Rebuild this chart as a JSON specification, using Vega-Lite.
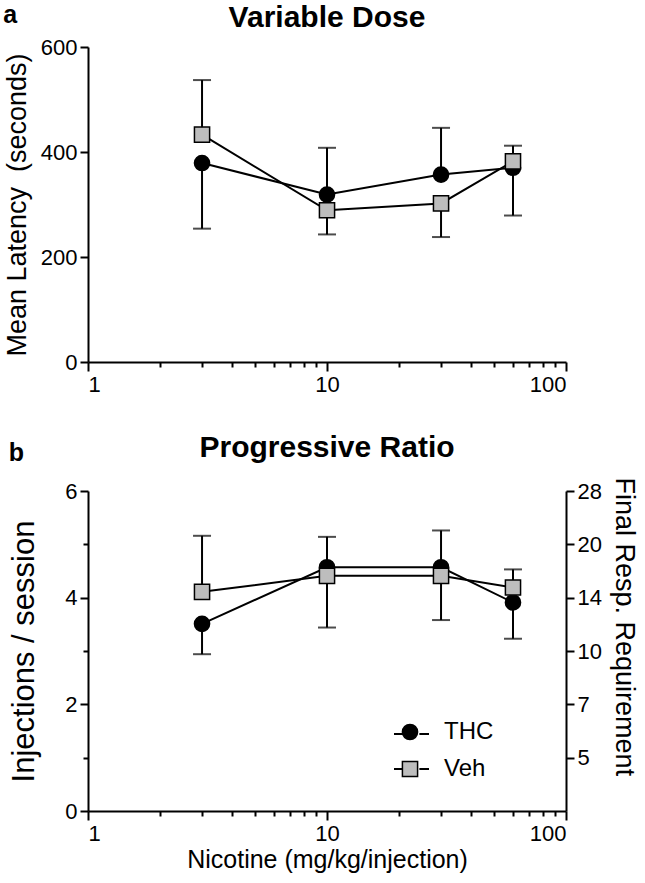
{
  "$schema": "https://vega.github.io/schema/vega-lite/v6.json",
  "padding": {"left": 3, "top": 3, "right": 3, "bottom": 3},
  "background": "white",
  "config": {
    "view": {"stroke": null},
    "font": "Liberation Sans",
    "axis": {
      "grid": false,
      "domainColor": "black",
      "domainWidth": 2,
      "tickColor": "black",
      "tickWidth": 2,
      "labelColor": "black",
      "titleColor": "black",
      "labelFont": "Liberation Sans",
      "titleFont": "Liberation Sans",
      "labelFontSize": 22,
      "titleFontSize": 25,
      "titleFontWeight": "normal",
      "labelPadding": 3
    },
    "title": {"font": "Liberation Sans", "color": "black"}
  },
  "datasets": {
    "latency": [
      {"dose": 3, "series": "THC", "mean": 379, "tip": 254},
      {"dose": 10, "series": "THC", "mean": 319, "tip": 408},
      {"dose": 30, "series": "THC", "mean": 357, "tip": 446},
      {"dose": 60, "series": "THC", "mean": 370, "tip": 279},
      {"dose": 3, "series": "Veh", "mean": 433, "tip": 537},
      {"dose": 10, "series": "Veh", "mean": 289, "tip": 243},
      {"dose": 30, "series": "Veh", "mean": 302, "tip": 238},
      {"dose": 60, "series": "Veh", "mean": 382, "tip": 412}
    ],
    "pr": [
      {"dose": 3, "series": "THC", "mean": 3.51, "tip": 2.94},
      {"dose": 10, "series": "THC", "mean": 4.57, "tip": 5.14},
      {"dose": 30, "series": "THC", "mean": 4.57, "tip": 5.26},
      {"dose": 60, "series": "THC", "mean": 3.91, "tip": 3.23},
      {"dose": 3, "series": "Veh", "mean": 4.11, "tip": 5.16},
      {"dose": 10, "series": "Veh", "mean": 4.41, "tip": 3.44},
      {"dose": 30, "series": "Veh", "mean": 4.41, "tip": 3.58},
      {"dose": 60, "series": "Veh", "mean": 4.19, "tip": 4.53}
    ]
  },
  "spacing": 38,
  "vconcat": [
    {
      "title": {"text": "a", "anchor": "start", "frame": "bounds", "fontSize": 25, "fontWeight": "bold", "dy": 25, "offset": 0},
      "vconcat": [
        {
          "width": 478,
          "height": 315,
          "title": {"text": "Variable Dose", "fontSize": 30, "fontWeight": "bold", "offset": 3},
          "data": {"name": "latency"},
          "layer": [
            {
              "mark": {"type": "rule", "strokeWidth": 2, "color": "black"},
              "encoding": {
                "x": {"field": "dose", "type": "quantitative", "scale": {"type": "log", "domain": [1, 100]},
                      "axis": {"orient": "bottom", "values": [1, 10, 100], "title": null, "tickSize": 9, "format": "d"}},
                "y": {"field": "mean", "type": "quantitative", "scale": {"domain": [0, 600]},
                      "axis": {"orient": "left", "values": [0, 200, 400, 600], "title": "Mean Latency\u00a0 (seconds)", "tickSize": 8, "titleFontSize": 27, "titlePadding": 9}},
                "y2": {"field": "tip"}
              }
            },
            {
              "mark": {"type": "tick", "orient": "horizontal", "size": 18, "thickness": 2, "color": "black"},
              "encoding": {
                "x": {"field": "dose", "type": "quantitative", "scale": {"type": "log", "domain": [1, 100]},
                      "axis": {"orient": "bottom", "values": [2, 3, 4, 5, 6, 7, 8, 9, 20, 30, 40, 50, 60, 70, 80, 90], "labels": false, "domain": false, "tickSize": 5, "title": null}},
                "y": {"field": "tip", "type": "quantitative", "scale": {"domain": [0, 600]}, "axis": null}
              }
            },
            {
              "mark": {"type": "line", "color": "black", "strokeWidth": 2},
              "encoding": {
                "x": {"field": "dose", "type": "quantitative", "scale": {"type": "log", "domain": [1, 100]}, "axis": null},
                "y": {"field": "mean", "type": "quantitative", "scale": {"domain": [0, 600]}, "axis": null},
                "detail": {"field": "series"}
              }
            },
            {
              "mark": {"type": "point", "filled": true, "size": 230, "stroke": "black", "strokeWidth": 1.5, "opacity": 1},
              "encoding": {
                "x": {"field": "dose", "type": "quantitative", "scale": {"type": "log", "domain": [1, 100]}, "axis": null},
                "y": {"field": "mean", "type": "quantitative", "scale": {"domain": [0, 600]}, "axis": null},
                "shape": {"field": "series", "type": "nominal", "scale": {"domain": ["THC", "Veh"], "range": ["circle", "square"]}, "legend": null},
                "fill": {"field": "series", "type": "nominal", "scale": {"domain": ["THC", "Veh"], "range": ["black", "#bdbdbd"]}, "legend": null}
              }
            }
          ],
          "resolve": {"axis": {"x": "independent", "y": "independent"}}
        }
      ]
    },
    {
      "title": {"text": "b", "anchor": "start", "frame": "bounds", "fontSize": 25, "fontWeight": "bold", "dy": 33, "offset": 0},
      "vconcat": [
        {
          "width": 478,
          "height": 320,
          "title": {"text": "Progressive Ratio", "fontSize": 30, "fontWeight": "bold", "offset": 14},
          "data": {"name": "pr"},
          "layer": [
            {
              "mark": {"type": "rule", "strokeWidth": 2, "color": "black"},
              "encoding": {
                "x": {"field": "dose", "type": "quantitative", "scale": {"type": "log", "domain": [1, 100]},
                      "axis": {"orient": "bottom", "values": [1, 10, 100], "title": "Nicotine (mg/kg/injection)", "tickSize": 9, "format": "d", "titleFontSize": 25, "titlePadding": 3}},
                "y": {"field": "mean", "type": "quantitative", "scale": {"domain": [0, 6]},
                      "axis": {"orient": "left", "values": [0, 2, 4, 6], "title": "Injections / session", "tickSize": 8, "titleFontSize": 31, "titlePadding": 24}},
                "y2": {"field": "tip"}
              }
            },
            {
              "mark": {"type": "tick", "orient": "horizontal", "size": 18, "thickness": 2, "color": "black"},
              "encoding": {
                "x": {"field": "dose", "type": "quantitative", "scale": {"type": "log", "domain": [1, 100]},
                      "axis": {"orient": "bottom", "values": [2, 3, 4, 5, 6, 7, 8, 9, 20, 30, 40, 50, 60, 70, 80, 90], "labels": false, "domain": false, "tickSize": 5, "title": null}},
                "y": {"field": "tip", "type": "quantitative", "scale": {"domain": [0, 6]},
                      "axis": {"orient": "left", "values": [1, 3, 5], "labels": false, "domain": false, "tickSize": 5, "title": null}}
              }
            },
            {
              "mark": {"type": "line", "strokeWidth": 2},
              "encoding": {
                "x": {"field": "dose", "type": "quantitative", "scale": {"type": "log", "domain": [1, 100]}, "axis": null},
                "y": {"field": "mean", "type": "quantitative", "scale": {"domain": [0, 6]},
                      "axis": {"orient": "right", "values": [1, 2, 3, 4, 5, 6], "tickSize": 8, "title": "Final Resp. Requirement", "titleFontSize": 27, "titlePadding": 8,
                               "titleY": -14, "titleAlign": "left",
                               "labelExpr": "datum.value == 1 ? '5' : datum.value == 2 ? '7' : datum.value == 3 ? '10' : datum.value == 4 ? '14' : datum.value == 5 ? '20' : '28'"}},
                "stroke": {"field": "series", "type": "nominal", "scale": {"range": ["black", "black"]},
                           "legend": {"orient": "none", "legendX": 305, "legendY": 224.5, "title": null, "labelFontSize": 24, "labelExpr": "''", "symbolType": "M -1 0 L -0.45 0 M 0.45 0 L 1 0", "symbolSize": 1225, "symbolStrokeWidth": 2, "symbolStrokeColor": "black", "rowPadding": 4, "labelOffset": 4}}
              }
            },
            {
              "mark": {"type": "point", "filled": true, "size": 230, "stroke": "black", "strokeWidth": 1.5, "opacity": 1},
              "encoding": {
                "x": {"field": "dose", "type": "quantitative", "scale": {"type": "log", "domain": [1, 100]}, "axis": null},
                "y": {"field": "mean", "type": "quantitative", "scale": {"domain": [0, 6]}, "axis": null},
                "shape": {"field": "series", "type": "nominal", "scale": {"domain": ["THC", "Veh"], "range": ["circle", "square"]},
                          "legend": {"orient": "none", "legendX": 310, "legendY": 229, "title": null, "labelFontSize": 24, "labelColor": "black", "symbolSize": 230, "labelOffset": 22, "rowPadding": 13,
                                     "encode": {"symbols": {"stroke": {"value": "black"}, "strokeWidth": {"value": 1.5}}}}},
                "fill": {"field": "series", "type": "nominal", "scale": {"domain": ["THC", "Veh"], "range": ["black", "#bdbdbd"]},
                         "legend": {"orient": "none", "legendX": 310, "legendY": 229, "title": null, "labelFontSize": 24, "labelColor": "black", "symbolSize": 230, "labelOffset": 22, "rowPadding": 13,
                                    "encode": {"symbols": {"stroke": {"value": "black"}, "strokeWidth": {"value": 1.5}}}}}
              }
            }
          ],
          "resolve": {"axis": {"x": "independent", "y": "independent"}}
        }
      ]
    }
  ],
  "resolve": {"scale": {"shape": "independent", "fill": "independent", "stroke": "independent"}, "legend": {"shape": "independent", "fill": "independent", "stroke": "independent"}}
}
